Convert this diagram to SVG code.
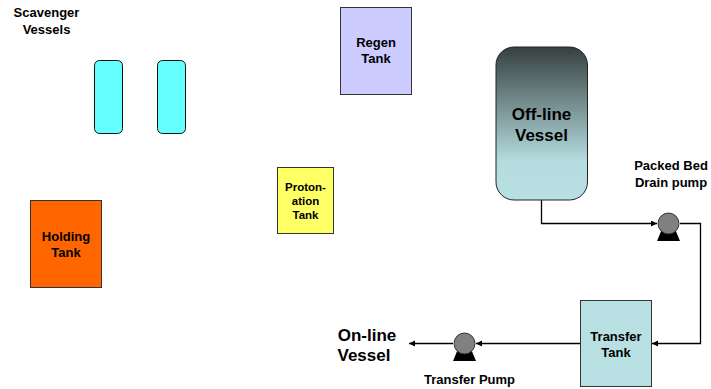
<svg xmlns="http://www.w3.org/2000/svg" width="711" height="389" viewBox="0 0 711 389">
<style>
text{font-family:"Liberation Sans",Arial,sans-serif;font-weight:bold;fill:#000;text-anchor:middle}
.t{stroke:#000;stroke-width:1}
.w{fill:none;stroke:#000;stroke-width:1.3}
.s{fill:#808080;stroke:#333;stroke-width:1}
.v{fill:#66ffff;stroke:#111;stroke-width:1}
.f13{font-size:13px}
.f11{font-size:11.5px}
</style>
<defs>
<linearGradient id="g" x1="0" y1="0" x2="0" y2="1">
<stop offset="0" stop-color="#36403f"/><stop offset="0.75" stop-color="#b5dde0"/><stop offset="1" stop-color="#b8e0e3"/>
</linearGradient>
<marker id="a" markerWidth="7" markerHeight="7" refX="6" refY="3" orient="auto" markerUnits="userSpaceOnUse"><path d="M0 0L6 3L0 6Z" fill="#000"/></marker>
</defs>
<g id="connectors">
<path class="w" d="M541.500 200V223.500H657" marker-end="url(#a)"/>
<path class="w" d="M680 223.500H700.500V343.500H652" marker-end="url(#a)"/>
<path class="w" d="M580 343.500H476" marker-end="url(#a)"/>
<path class="w" d="M453 343.500H409" marker-end="url(#a)"/>
</g>
<g id="scavenger-label"><text class="f13" x="46.500" y="17">Scavenger</text><text class="f13" x="46.500" y="34">Vessels</text></g>
<g id="scavenger-1"><rect class="v" x="94.500" y="60.500" width="28" height="73" rx="5"/></g>
<g id="scavenger-2"><rect class="v" x="157.500" y="60.500" width="28" height="73" rx="5"/></g>
<g id="regen-tank"><rect x="340.500" y="7.500" width="71" height="87" fill="#ccccff" stroke="#333"/><text class="f13" x="376" y="47">Regen</text><text class="f13" x="376" y="63">Tank</text></g>
<g id="offline-vessel"><rect x="496" y="47" width="91.500" height="153" rx="18" fill="url(#g)" stroke="#222" stroke-width="1"/><text x="541.500" y="120" font-size="17">Off-line</text><text x="541.500" y="141" font-size="17">Vessel</text></g>
<g id="protonation-tank"><rect x="277.500" y="167.500" width="56" height="66" fill="#ffff66" stroke="#333"/><text class="f11" x="305.500" y="191">Proton-</text><text class="f11" x="305.500" y="205">ation</text><text class="f11" x="305.500" y="219">Tank</text></g>
<g id="holding-tank"><rect x="30.500" y="200.500" width="71" height="87" fill="#ff6600" stroke="#333"/><text class="f13" x="66" y="241">Holding</text><text class="f13" x="66" y="257">Tank</text></g>
<g id="drain-pump"><path d="M662 229H675L680 241H657Z" fill="#000"/><circle class="s" cx="668.500" cy="223.500" r="10.500"/><text class="f13" x="671" y="170">Packed Bed</text><text class="f13" x="671" y="187">Drain pump</text></g>
<g id="transfer-tank"><rect x="580.500" y="300.500" width="71" height="86" fill="#b8e0e3" stroke="#333"/><text class="f13" x="616" y="341">Transfer</text><text class="f13" x="616" y="357">Tank</text></g>
<g id="transfer-pump"><path d="M458 349H471L476 361H453Z" fill="#000"/><circle class="s" cx="464.500" cy="343.500" r="10.500"/><text class="f13" x="469.500" y="384">Transfer Pump</text></g>
<g id="online-label"><text x="367" y="341" font-size="17">On-line</text><text x="364" y="361" font-size="17">Vessel</text></g>
</svg>
